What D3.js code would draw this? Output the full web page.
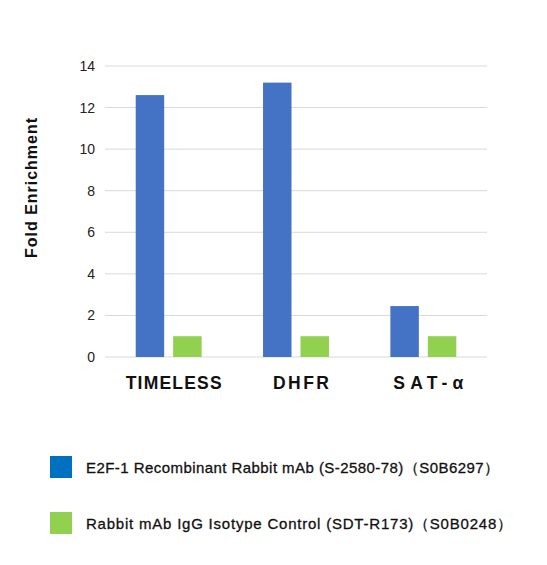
<!DOCTYPE html>
<html><head><meta charset="utf-8">
<script src="https://cdn.jsdelivr.net/npm/d3@7"></script>
<style>body{margin:0;background:#fff}</style>
</head><body><svg id="c" width="547" height="565"></svg>
<script>
const categories = ["TIMELESS", "DHFR", "SAT-\u03b1"];
const seriesNames = ["E2F-1 Recombinant Rabbit mAb (S-2580-78)\uff08S0B6297\uff09",
                     "Rabbit mAb IgG Isotype Control (SDT-R173)\uff08S0B0248\uff09"];
const e2f1 = [12.6, 13.2, 2.45];
const igg = [1.0, 1.0, 1.0];
const yTicks = [0, 2, 4, 6, 8, 10, 12, 14];
const colors = ["#4472c4", "#92d050"];

const svg = d3.select("#c");
const font = "'Liberation Sans', Arial, sans-serif";

// --------------- Scales --------------- //
const x = d3.scaleBand().domain(categories).range([105, 487]).paddingInner(0).paddingOuter(0);
const y = d3.scaleLinear().domain([0, 14]).range([357, 66]);
const inner = d3.scaleBand().domain([0, 1]).range([0, x.bandwidth()]).paddingInner(0.24).paddingOuter(0.82);

// Gridlines
svg.append("g").selectAll("line").data(yTicks).join("line")
    .attr("x1", 105).attr("x2", 487)
    .attr("y1", d => y(d)).attr("y2", d => y(d))
    .attr("stroke", "#d9d9d9").attr("stroke-width", 1);

// Y axis labels
svg.append("g").selectAll("text").data(yTicks).join("text")
    .attr("x", 95).attr("y", d => y(d) + 5)
    .attr("text-anchor", "end").attr("font-family", font).attr("font-size", 14)
    .attr("fill", "#222").text(d => d);

// Bars
const series = [e2f1, igg];
series.forEach((vals, si) => {
    svg.append("g").selectAll("rect").data(categories).join("rect")
        .attr("x", d => x(d) + inner(si))
        .attr("width", inner.bandwidth())
        .attr("y", (d, i) => y(vals[i]))
        .attr("height", (d, i) => y(0) - y(vals[i]))
        .attr("fill", colors[si]);
});

// Category labels
svg.append("g").selectAll("text").data(categories).join("text")
    .attr("x", d => x(d) + x.bandwidth() / 2 + 5).attr("y", 389)
    .attr("text-anchor", "middle").attr("font-family", font)
    .attr("font-size", 17.5).attr("font-weight", "bold").attr("fill", "#111")
    .attr("textLength", (d, i) => [96, 56, 70][i])
    .text(d => d);

// Y title
svg.append("text")
    .attr("transform", "translate(37,188) rotate(-90)")
    .attr("text-anchor", "middle").attr("font-family", font)
    .attr("font-size", 16).attr("font-weight", "bold").attr("fill", "#111")
    .attr("textLength", 140)
    .text("Fold Enrichment");

// Legend
const leg = svg.append("g").selectAll("g").data(seriesNames).join("g")
    .attr("transform", (d, i) => `translate(50,${456 + i * 56})`);
leg.append("rect").attr("width", 22).attr("height", 22).attr("fill", (d, i) => i ? "#92d050" : "#0070c0");
leg.append("text").attr("x", 36).attr("y", 17)
    .attr("font-family", font).attr("font-size", 15).attr("fill", "#111")
    .attr("stroke", "#111").attr("stroke-width", 0.3)
    .attr("textLength", (d, i) => [413, 426][i])
    .text(d => d);
</script></body></html>
